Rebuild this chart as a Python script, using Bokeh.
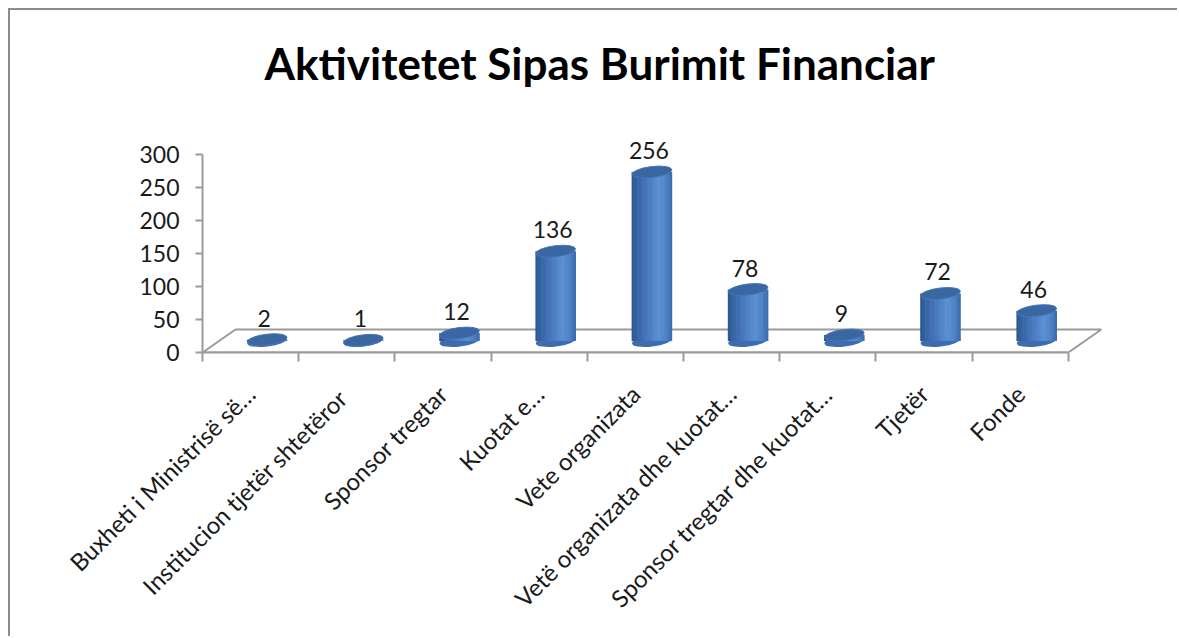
import math
import numpy as np
from bokeh.plotting import figure
from bokeh.models import FixedTicker, Range1d
from bokeh.embed import file_html
from bokeh.resources import INLINE
from bokeh.core.properties import value

# ---------------- data ----------------
title_text = "Aktivitetet Sipas Burimit Financiar"
categories = [
    "Buxheti i Ministrisë së…",
    "Institucion tjetër  shtetëror",
    "Sponsor tregtar",
    "Kuotat e…",
    "Vete organizata",
    "Vetë organizata dhe kuotat…",
    "Sponsor tregtar dhe kuotat…",
    "Tjetër",
    "Fonde",
]
counts = [2, 1, 12, 136, 256, 78, 9, 72, 46]
y_ticks = [0, 50, 100, 150, 200, 250, 300]

# ---------------- geometry / style ----------------
FONT = "Lato"
PX_X = 96.2          # pixels per category
PX_Y = 0.66          # pixels per value unit
DEPTH_X = 33 / PX_X  # 3D floor depth (category units)
DEPTH_Y = 23 / PX_Y  # 3D floor depth (value units)
CYL_W = 40 / PX_X    # cylinder diameter (category units)
GRAY = "#9a9a9a"

W, H = 1169, 628
ML, MR, MT, MB = 192, 59, 100, 286
fw = W - ML - MR
fh = H - MT - MB

p = figure(width=W, height=H, output_backend="svg", toolbar_location=None,
           x_range=Range1d(0, fw / PX_X), y_range=Range1d(0, fh / PX_Y),
           min_border_left=ML, min_border_right=MR,
           min_border_top=MT, min_border_bottom=MB,
           title=title_text)
p.styles = {"margin-left": "10px", "margin-top": "10px",
            "box-shadow": "-2px -2px 0 0 #8c8c8c"}
p.outline_line_color = None
p.xgrid.visible = False
p.ygrid.visible = False
p.background_fill_color = "white"
p.border_fill_color = "white"

p.title.text_font = FONT
p.title.text_font_size = "44px"
p.title.text_font_style = "bold"
p.title.text_color = "#000000"
p.title.align = "left"
p.title.offset = 62
p.title.standoff = 44

n = len(categories)

# floor of the 3D plot area
p.patch([0, n, n + DEPTH_X, DEPTH_X], [0, 0, DEPTH_Y, DEPTH_Y],
        fill_color=None, line_color=GRAY, line_width=2)

# x axis
p.xaxis.ticker = FixedTicker(ticks=[i + 0.5 for i in range(n)],
                             minor_ticks=list(range(n + 1)))
p.xaxis.major_label_overrides = {i + 0.5: c for i, c in enumerate(categories)}
p.xaxis.bounds = (0, n)
p.xaxis.major_tick_out = 0
p.xaxis.major_tick_in = 0
p.xaxis.minor_tick_out = 9
p.xaxis.minor_tick_in = 0
p.xaxis.minor_tick_line_color = GRAY
p.xaxis.minor_tick_line_width = 2
p.xaxis.axis_line_color = GRAY
p.xaxis.axis_line_width = 2
p.xaxis.major_label_orientation = math.pi / 4
p.xaxis.major_label_standoff = 28
p.xaxis.major_label_text_font = FONT
p.xaxis.major_label_text_font_size = "24px"
p.xaxis.major_label_text_color = "#1a1a1a"

# y axis
p.yaxis.ticker = FixedTicker(ticks=y_ticks, minor_ticks=[])
p.yaxis.bounds = (0, 300)
p.yaxis.major_tick_out = 7
p.yaxis.major_tick_in = 0
p.yaxis.major_tick_line_color = GRAY
p.yaxis.major_tick_line_width = 2
p.yaxis.axis_line_color = GRAY
p.yaxis.axis_line_width = 2
p.yaxis.major_label_standoff = 16
p.yaxis.major_label_text_font = FONT
p.yaxis.major_label_text_font_size = "23px"
p.yaxis.major_label_text_color = "#1a1a1a"

# cylinders
cx = np.arange(n) + 0.5 + DEPTH_X / 2
base = DEPTH_Y / 2
vals = np.array(counts, dtype=float)
tops = base + vals

p.ellipse(x=cx, y=[base] * n, width=40, height=11, angle=0.12,
          width_units="screen", height_units="screen",
          fill_color="#3d6db0", line_color=None)

# side shading: colour stops across the cylinder width (style only)
stops_pos = [0.0, 0.15, 0.45, 0.68, 0.85, 1.0]
stops_rgb = [(0x2a, 0x55, 0x8f), (0x37, 0x65, 0xa6), (0x4a, 0x7d, 0xc1),
             (0x5a, 0x91, 0xd4), (0x4f, 0x84, 0xc6), (0x3a, 0x6b, 0xad)]
ns = 24
for k in range(ns):
    t = (k + 0.5) / ns
    rgb = [int(round(np.interp(t, stops_pos, [c[j] for c in stops_rgb]))) for j in range(3)]
    col = "#%02x%02x%02x" % tuple(rgb)
    off = (t - 0.5) * CYL_W
    p.vbar(x=cx + off, width=CYL_W / ns * 1.35, bottom=base, top=tops,
           fill_color=col, line_color=None)

p.ellipse(x=cx, y=tops, width=40, height=11, angle=0.12,
          width_units="screen", height_units="screen",
          fill_color="#3a67a2", line_color="#4576b8", line_width=1)

# data labels
p.text(x=cx, y=tops, text=[str(c) for c in counts],
       text_align="center", text_baseline="bottom", x_offset=-3, y_offset=-13,
       text_font=value(FONT), text_font_size="23px", text_color="#1a1a1a")

open("out.html", "w").write(file_html(p, INLINE))
